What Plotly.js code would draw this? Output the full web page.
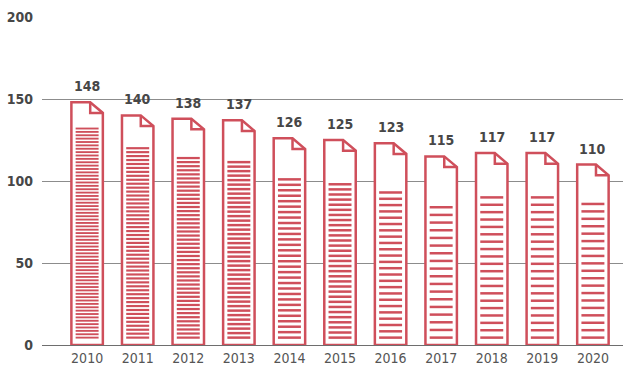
<!DOCTYPE html>
<html>
<head>
<meta charset="utf-8">
<script src="https://cdn.plot.ly/plotly-3.0.1.min.js"></script>
<style>
  html, body { margin: 0; padding: 0; background: #ffffff; }
  #chart { width: 623px; height: 367px; }
</style>
</head>
<body>
<div id="chart"></div>
<script>
// ---- data ----
const years = ['2010', '2011', '2012', '2013', '2014', '2015', '2016', '2017', '2018', '2019', '2020'];
const values = [148, 140, 138, 137, 126, 125, 123, 115, 117, 117, 110];
// striped "text lines" inside each document: top of stripes (value units) and number of stripes
const stripeTop = [132, 120, 114, 111.5, 101, 98, 93, 84, 90, 90, 86];
const stripeCount = [63, 49, 45, 40, 30, 31, 24, 18, 20, 20, 19];
const yTicks = [0, 50, 100, 150, 200];

// ---- style ----
const RED = '#cf4f5b';
const FONT = '"DejaVu Sans Condensed", "DejaVu Sans", sans-serif';
const halfW = 0.311;      // half width of document (x units)
const foldX = 0.25;       // folded corner width (x units)
const foldY = 6.5;        // folded corner height (y units)
const stripeHalf = 0.227; // half width of stripes
const stripeBottom = 4.5;
const pxPerY = 1.64;

const traces = [];
values.forEach((v, i) => {
  const L = i - halfW, R = i + halfW;
  traces.push({
    type: 'scatter', mode: 'lines', hoverinfo: 'skip', showlegend: false,
    x: [L, L, R - foldX, R, R, L, null, R - foldX, R - foldX, R],
    y: [0, v, v, v - foldY, 0, 0, null, v, v - foldY, v - foldY],
    fill: 'toself', fillcolor: '#ffffff',
    line: { color: RED, width: 2.5 }
  });
});
values.forEach((v, i) => {
  const n = stripeCount[i];
  const top = stripeTop[i];
  const step = (top - stripeBottom) / (n - 1);
  const xs = [], ys = [];
  for (let k = 0; k < n; k++) {
    const yy = top - k * step;
    xs.push(i - stripeHalf, i + stripeHalf, null);
    ys.push(yy, yy, null);
  }
  const w = Math.min(2.5, step * pxPerY * 0.55);
  traces.push({
    type: 'scatter', mode: 'lines', hoverinfo: 'skip', showlegend: false,
    x: xs, y: ys, line: { color: RED, width: w }
  });
});

const annotations = values.map((v, i) => ({
  x: i, y: v, xref: 'x', yref: 'y', text: String(v), showarrow: false,
  yanchor: 'bottom', yshift: 6,
  font: { family: FONT, size: 14, color: '#474747', weight: 'bold' }
}));

const layout = {
  width: 623, height: 367,
  margin: { l: 42, r: 0, t: 17, b: 22, pad: 0 },
  paper_bgcolor: '#ffffff', plot_bgcolor: '#ffffff',
  showlegend: false,
  xaxis: {
    range: [-0.892, 10.595],
    tickvals: years.map((_, i) => i), ticktext: years,
    showgrid: false, zeroline: false, showline: false, ticks: '',
    ticklabelstandoff: 3,
    tickfont: { family: FONT, size: 14, color: '#555555' },
    fixedrange: true
  },
  yaxis: {
    range: [0, 200], tickvals: yTicks, ticktext: yTicks.map(String),
    showgrid: true, gridcolor: '#8c8c8c', gridwidth: 1,
    zeroline: true, zerolinecolor: '#6e6e6e', zerolinewidth: 1,
    showline: false, ticks: '', ticklabelstandoff: 8,
    tickfont: { family: FONT, size: 14, color: '#474747', weight: 'bold' },
    fixedrange: true
  },
  annotations: annotations
};

Plotly.newPlot('chart', traces, layout, { staticPlot: true, displayModeBar: false });
</script>
</body>
</html>
